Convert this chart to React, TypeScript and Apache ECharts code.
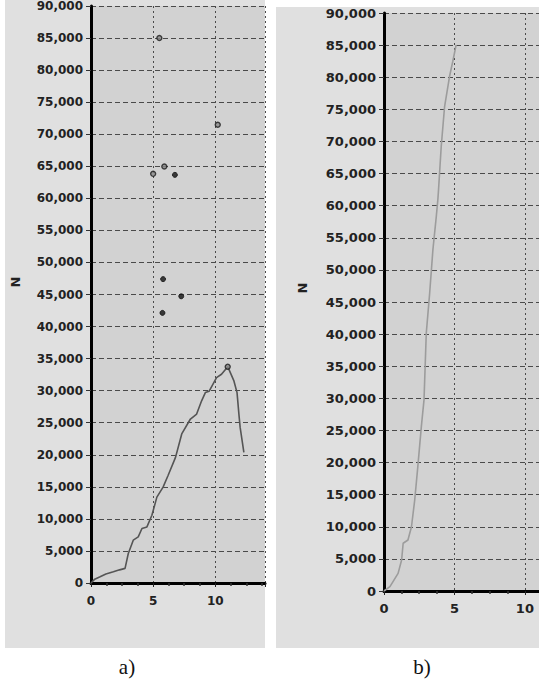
import React, { useEffect, useRef } from "react";
import * as echarts from "echarts";

// Panel a) — force curve
const leftX = [0, 0.3, 0.73, 1.2, 1.8, 2.3, 2.74, 3.0, 3.4, 3.8, 4.1, 4.5, 4.9, 5.3, 5.8, 6.2, 6.8, 7.3, 8.0, 8.5, 8.9, 9.2, 9.5, 10.1, 10.5, 11.0, 11.5, 11.75, 11.9, 12.0, 12.3];
const leftY = [0, 600, 980, 1400, 1750, 2050, 2280, 4600, 6680, 7200, 8500, 8750, 10560, 13400, 14950, 16770, 19600, 23250, 25580, 26350, 28420, 29700, 29900, 32030, 32560, 33740, 31520, 29700, 26350, 24270, 20390];
// Panel a) — isolated points
const hollowX = [5.5, 10.2, 5.0, 5.9, 11.0];
const hollowY = [85000, 71480, 63820, 64960, 33740];
const filledX = [6.75, 5.8, 7.26, 5.75];
const filledY = [63660, 47400, 44720, 42130];

// Panel b) — force curve
const rightX = [0, 0.42, 1.0, 1.25, 1.36, 1.7, 1.95, 2.18, 2.4, 2.65, 2.84, 3.0, 3.24, 3.47, 3.71, 3.82, 3.87, 4.06, 4.3, 4.65, 4.88, 5.12];
const rightY = [0, 670, 2750, 4830, 7430, 7940, 10000, 14170, 19360, 25590, 29750, 40130, 46370, 53110, 58300, 60900, 62460, 69200, 75440, 80110, 82450, 85050];

const yTicks = { min: 0, max: 90000, interval: 5000 };
const panelLabels = ["a)", "b)"];
const yName = "N";

const zip = (xs: number[], ys: number[]) => xs.map((x, i) => [x, ys[i]]);

const FONT = "DejaVu Sans";

function makeX(gridIndex: number, max: number, fontSize: number, margin: number) {
  return {
    gridIndex,
    type: "value",
    min: 0,
    max,
    interval: 5,
    axisLine: { show: true, onZero: false, lineStyle: { color: "#000", width: 3 } },
    axisTick: { show: true, length: 4, lineStyle: { color: "#222", width: 1 } },
    minorTick: { show: true, splitNumber: 4, length: 3, lineStyle: { color: "#333", width: 1.5 } },
    axisLabel: {
      margin,
      color: "#222",
      fontFamily: FONT,
      fontWeight: "bold",
      fontSize,
      showMaxLabel: false,
      formatter: (v: number) => (v % 5 === 0 ? String(v) : ""),
    },
    splitLine: { show: true, lineStyle: { color: "#4a4a4a", type: [2, 3], width: 1 } },
  };
}

function makeY(gridIndex: number, fontSize: number) {
  return {
    gridIndex,
    type: "value",
    min: yTicks.min,
    max: yTicks.max,
    interval: yTicks.interval,
    axisLine: { show: true, onZero: false, lineStyle: { color: "#000", width: 3 } },
    axisTick: { show: true, length: 5, lineStyle: { color: "#333", width: 1 } },
    axisLabel: {
      margin: 8,
      color: "#222",
      fontFamily: FONT,
      fontWeight: "bold",
      fontSize,
      formatter: (v: number) => v.toLocaleString("en-US"),
    },
    splitLine: { show: true, lineStyle: { color: "#4a4a4a", type: [5, 3], width: 1 } },
  };
}

export default function App() {
  const ref = useRef<HTMLDivElement>(null);
  useEffect(() => {
    if (!ref.current) return;
    const chart = echarts.init(ref.current, null, { renderer: "svg" });
    chart.setOption({
      animation: false,
      backgroundColor: "#ffffff",
      graphic: [
        { type: "rect", z: -10, shape: { x: 5, y: -10, width: 260, height: 658 }, style: { fill: "#e0e0e0" } },
        { type: "rect", z: -10, shape: { x: 276, y: 7, width: 270, height: 641 }, style: { fill: "#e0e0e0" } },
        {
          type: "text", x: 15, y: 282, rotation: Math.PI / 2,
          style: { text: yName, fontFamily: FONT, fontWeight: "bold", fontSize: 13, fill: "#222", align: "center", verticalAlign: "middle" },
        },
        {
          type: "text", x: 302, y: 288, rotation: Math.PI / 2,
          style: { text: yName, fontFamily: FONT, fontWeight: "bold", fontSize: 13, fill: "#222", align: "center", verticalAlign: "middle" },
        },
        {
          type: "text", x: 127, y: 667,
          style: { text: panelLabels[0], fontFamily: "Liberation Serif", fontSize: 21, fill: "#111", align: "center", verticalAlign: "middle" },
        },
        {
          type: "text", x: 422, y: 667,
          style: { text: panelLabels[1], fontFamily: "Liberation Serif", fontSize: 21, fill: "#111", align: "center", verticalAlign: "middle" },
        },
      ],
      grid: [
        { left: 91, top: 2, width: 174, height: 581, show: true, backgroundColor: "#d2d2d2", borderWidth: 0, containLabel: false },
        { left: 384, top: 13, width: 156.2, height: 578, show: true, backgroundColor: "#d2d2d2", borderWidth: 0, containLabel: false },
      ],
      xAxis: [makeX(0, 14, 12, 12), makeX(1, 11, 13, 11)],
      yAxis: [makeY(0, 12), makeY(1, 13)],
      series: [
        {
          type: "line", xAxisIndex: 0, yAxisIndex: 0, data: zip(leftX, leftY), showSymbol: false, symbol: "none",
          lineStyle: { color: "#555", width: 1.6 }, z: 3,
        },
        {
          type: "scatter", xAxisIndex: 0, yAxisIndex: 0, data: zip(hollowX, hollowY), symbol: "circle", symbolSize: 5,
          itemStyle: { color: "#8a8a8a", borderColor: "#1a1a1a", borderWidth: 1.4 }, z: 4,
        },
        {
          type: "scatter", xAxisIndex: 0, yAxisIndex: 0, data: zip(filledX, filledY), symbol: "circle", symbolSize: 5,
          itemStyle: { color: "#111", borderColor: "#111", borderWidth: 1 }, z: 4,
        },
        {
          type: "line", xAxisIndex: 1, yAxisIndex: 1, data: zip(rightX, rightY), showSymbol: false, symbol: "none",
          lineStyle: { color: "#9c9c9c", width: 1.6 }, z: 3,
        },
      ],
    });
    return () => chart.dispose();
  }, []);
  return <div ref={ref} style={{ position: "fixed", left: 0, top: 0, width: 539, height: 687 }} />;
}
